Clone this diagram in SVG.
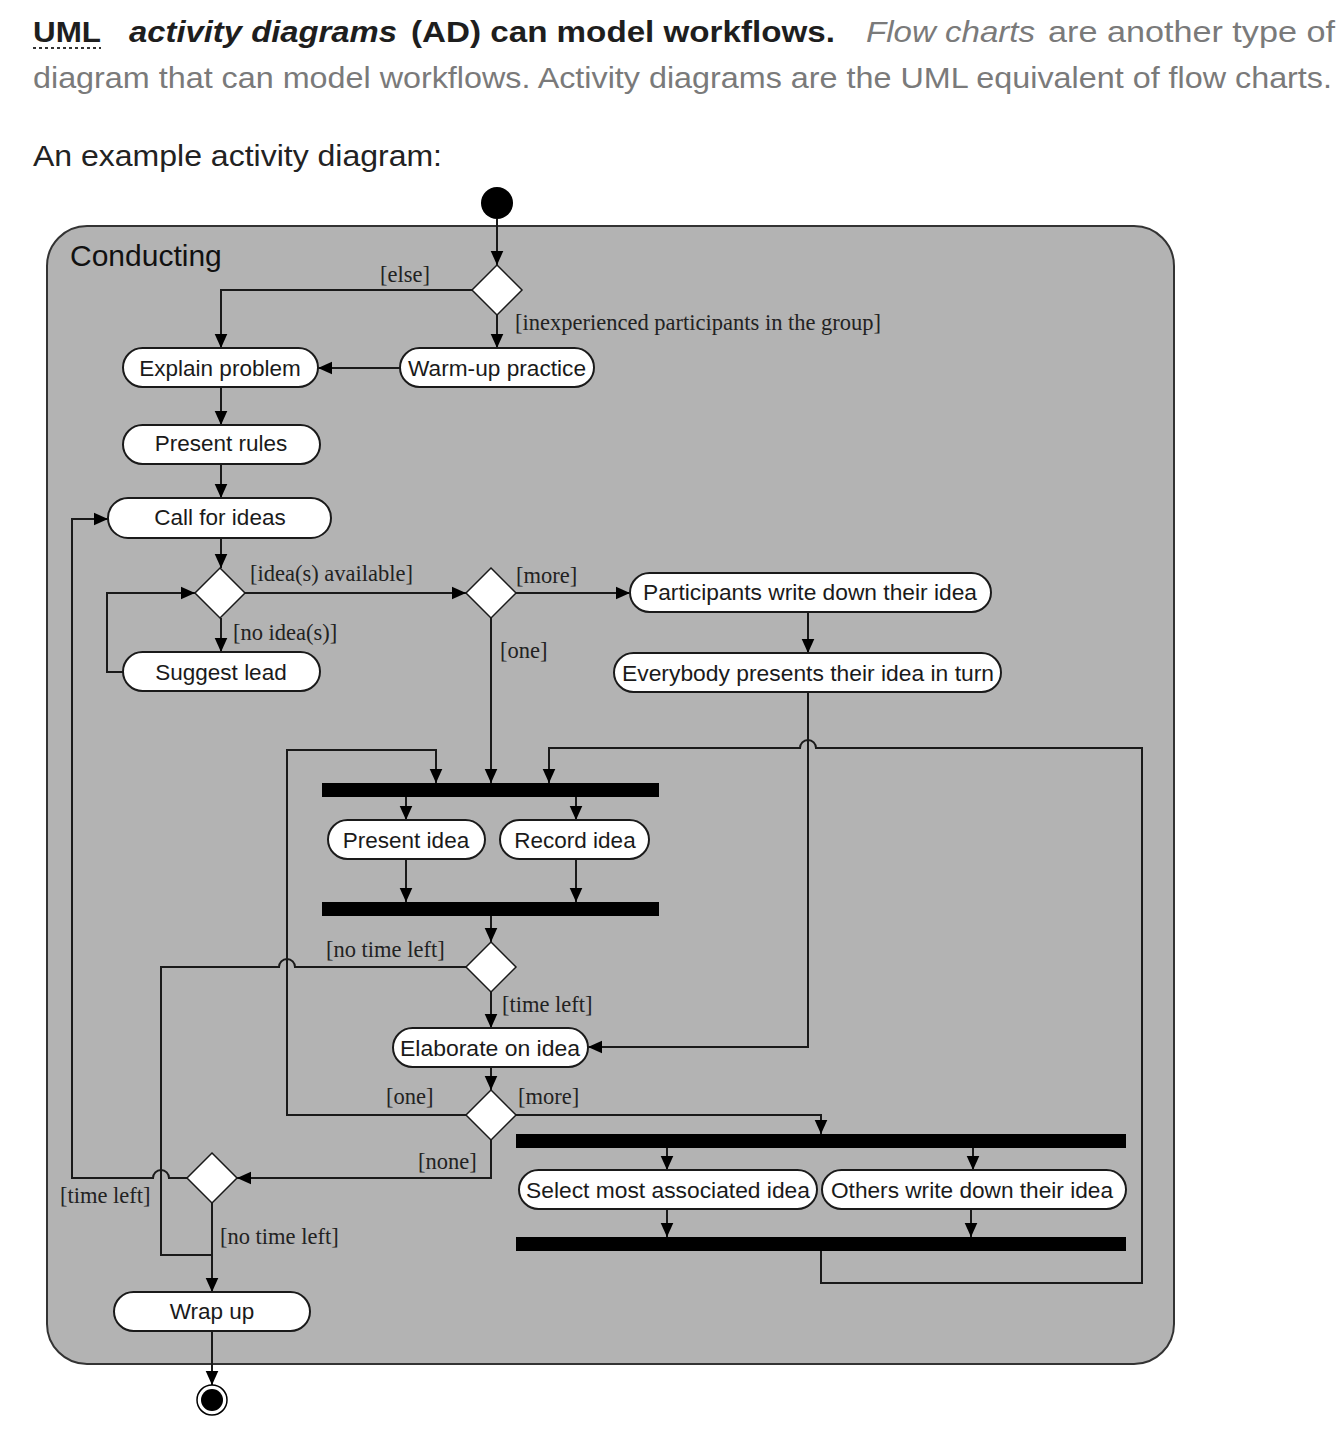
<svg xmlns="http://www.w3.org/2000/svg" width="1344" height="1436" viewBox="0 0 1344 1436">
<style>
.hd{font-family:"Liberation Sans",Arial,sans-serif;font-size:29px}
.b{font-weight:bold;fill:#1e1e1e}
.g{fill:#7a7a7a}
.k{fill:#222}
.pill{fill:#fff;stroke:#1a1a1a;stroke-width:2}
.pt{font-family:"Liberation Sans",Arial,sans-serif;font-size:22.5px;fill:#1a1a1a;text-anchor:middle}
.lb{font-family:"Liberation Serif","Times New Roman",serif;font-size:22.5px;fill:#222}
.ln{fill:none;stroke:#1a1a1a;stroke-width:2}
.ar{marker-end:url(#ah)}
.dia{fill:#fff;stroke:#1a1a1a;stroke-width:1.5}
.bar{fill:#000}
</style>
<defs>
<marker id="ah" viewBox="0 0 10 10" refX="10" refY="5" markerWidth="14" markerHeight="14" markerUnits="userSpaceOnUse" orient="auto">
<path d="M0,0.5 L10,5 L0,9.5 z" fill="#000"/>
</marker>
</defs>
<rect width="1344" height="1436" fill="#fff"/>
<g id="header">
<text class="hd b" x="33" y="42" textLength="68" lengthAdjust="spacingAndGlyphs">UML</text>
<line x1="33" y1="48" x2="101" y2="48" stroke="#333" stroke-width="2" stroke-dasharray="3,3"/>
<text class="hd b" x="129" y="42" font-style="italic" textLength="268" lengthAdjust="spacingAndGlyphs">activity diagrams</text>
<text class="hd b" x="411" y="42" textLength="424" lengthAdjust="spacingAndGlyphs">(AD) can model workflows.</text>
<text class="hd g" x="866" y="42" font-style="italic" textLength="169" lengthAdjust="spacingAndGlyphs">Flow charts</text>
<text class="hd g" x="1048" y="42" textLength="287" lengthAdjust="spacingAndGlyphs">are another type of</text>
<text class="hd g" x="33" y="88" textLength="1299" lengthAdjust="spacingAndGlyphs">diagram that can model workflows. Activity diagrams are the UML equivalent of flow charts.</text>
<text class="hd k" x="33" y="166" textLength="409" lengthAdjust="spacingAndGlyphs">An example activity diagram:</text>
</g>
<g id="container">
<rect x="47" y="226" width="1127" height="1138" rx="40" fill="#b3b3b3" stroke="#333" stroke-width="2"/>
<text x="70" y="266" font-family="Liberation Sans, Arial, sans-serif" font-size="30" fill="#111">Conducting</text>
</g>
<g id="connectors">
<path class="ln ar" d="M497,219 L497,265"/>
<path class="ln ar" d="M472,290 L221,290 L221,348"/>
<path class="ln ar" d="M497,315 L497,348"/>
<path class="ln ar" d="M400,368 L318,368"/>
<path class="ln ar" d="M221,387 L221,425"/>
<path class="ln ar" d="M221,464 L221,498"/>
<path class="ln ar" d="M221,538 L221,568"/>
<path class="ln ar" d="M245,593 L466,593"/>
<path class="ln ar" d="M221,618 L221,652"/>
<path class="ln ar" d="M123,672 L107,672 L107,593 L195,593"/>
<path class="ln ar" d="M516,593 L630,593"/>
<path class="ln ar" d="M491,618 L491,783"/>
<path class="ln ar" d="M808,612 L808,653"/>
<path class="ln ar" d="M808,692 L808,1047 L588,1047"/>
<path class="ln ar" d="M821,1251 L821,1283 L1142,1283 L1142,748 L816,748 A8,8 0 0 0 800,748 L549,748 L549,783"/>
<path class="ln ar" d="M466,1115 L287,1115 L287,750 L436,750 L436,783"/>
<path class="ln ar" d="M406,797 L406,820"/>
<path class="ln ar" d="M576,797 L576,820"/>
<path class="ln ar" d="M406,859 L406,902"/>
<path class="ln ar" d="M576,859 L576,902"/>
<path class="ln ar" d="M491,916 L491,942"/>
<path class="ln" d="M466,967 L295,967 A8,8 0 0 0 279,967 L161,967 L161,1255 L212,1255"/>
<path class="ln ar" d="M491,992 L491,1028"/>
<path class="ln ar" d="M491,1067 L491,1090"/>
<path class="ln ar" d="M516,1115 L821,1115 L821,1134"/>
<path class="ln ar" d="M667,1148 L667,1170"/>
<path class="ln ar" d="M973,1148 L973,1170"/>
<path class="ln ar" d="M667,1209 L667,1237"/>
<path class="ln ar" d="M971,1209 L971,1237"/>
<path class="ln ar" d="M491,1140 L491,1178 L237,1178"/>
<path class="ln ar" d="M187,1178 L169,1178 A8,8 0 0 0 153,1178 L72,1178 L72,519 L108,519"/>
<path class="ln ar" d="M212,1203 L212,1292"/>
<path class="ln ar" d="M212,1331 L212,1385"/>
</g>
<g id="labels">
<text class="lb" x="380" y="282">[else]</text>
<text class="lb" x="515" y="330">[inexperienced participants in the group]</text>
<text class="lb" x="250" y="581">[idea(s) available]</text>
<text class="lb" x="516" y="583">[more]</text>
<text class="lb" x="233" y="640">[no idea(s)]</text>
<text class="lb" x="500" y="658">[one]</text>
<text class="lb" x="326" y="957">[no time left]</text>
<text class="lb" x="502" y="1012">[time left]</text>
<text class="lb" x="386" y="1104">[one]</text>
<text class="lb" x="518" y="1104">[more]</text>
<text class="lb" x="418" y="1169">[none]</text>
<text class="lb" x="60" y="1203">[time left]</text>
<text class="lb" x="220" y="1244">[no time left]</text>
</g>
<g id="initial"><circle cx="497" cy="203" r="16" fill="#000"/></g>
<g id="d1"><path class="dia" d="M497,265 L522,290 L497,315 L472,290 z"/></g>
<g id="explain"><rect class="pill" x="123" y="348" width="195" height="39" rx="19.5"/><text class="pt" x="220" y="376">Explain problem</text></g>
<g id="warmup"><rect class="pill" x="400" y="348" width="194" height="39" rx="19.5"/><text class="pt" x="497" y="376" textLength="178" lengthAdjust="spacingAndGlyphs">Warm-up practice</text></g>
<g id="rules"><rect class="pill" x="123" y="425" width="197" height="39" rx="19.5"/><text class="pt" x="221" y="451">Present rules</text></g>
<g id="call"><rect class="pill" x="108" y="498" width="223" height="40" rx="20"/><text class="pt" x="220" y="525">Call for ideas</text></g>
<g id="d2"><path class="dia" d="M220,568 L245,593 L220,618 L195,593 z"/></g>
<g id="d3"><path class="dia" d="M491,568 L516,593 L491,618 L466,593 z"/></g>
<g id="suggest"><rect class="pill" x="123" y="652" width="197" height="39" rx="19.5"/><text class="pt" x="221" y="680">Suggest lead</text></g>
<g id="participants"><rect class="pill" x="630" y="573" width="361" height="39" rx="19.5"/><text class="pt" x="810" y="600" textLength="334" lengthAdjust="spacingAndGlyphs">Participants write down their idea</text></g>
<g id="everybody"><rect class="pill" x="614" y="653" width="387" height="39" rx="19.5"/><text class="pt" x="808" y="681" textLength="372" lengthAdjust="spacingAndGlyphs">Everybody presents their idea in turn</text></g>
<g id="fork1"><rect class="bar" x="322" y="783" width="337" height="14"/></g>
<g id="present"><rect class="pill" x="328" y="820" width="157" height="39" rx="19.5"/><text class="pt" x="406" y="848">Present idea</text></g>
<g id="record"><rect class="pill" x="500" y="820" width="149" height="39" rx="19.5"/><text class="pt" x="575" y="848">Record idea</text></g>
<g id="join1"><rect class="bar" x="322" y="902" width="337" height="14"/></g>
<g id="d4"><path class="dia" d="M491,942 L516,967 L491,992 L466,967 z"/></g>
<g id="elaborate"><rect class="pill" x="393" y="1028" width="195" height="39" rx="19.5"/><text class="pt" x="490" y="1056" textLength="180" lengthAdjust="spacingAndGlyphs">Elaborate on idea</text></g>
<g id="d6"><path class="dia" d="M491,1090 L516,1115 L491,1140 L466,1115 z"/></g>
<g id="fork2"><rect class="bar" x="516" y="1134" width="610" height="14"/></g>
<g id="select"><rect class="pill" x="519" y="1170" width="298" height="39" rx="19.5"/><text class="pt" x="668" y="1198" textLength="284" lengthAdjust="spacingAndGlyphs">Select most associated idea</text></g>
<g id="others"><rect class="pill" x="822" y="1170" width="304" height="39" rx="19.5"/><text class="pt" x="972" y="1198" textLength="282" lengthAdjust="spacingAndGlyphs">Others write down their idea</text></g>
<g id="join2"><rect class="bar" x="516" y="1237" width="610" height="14"/></g>
<g id="d5"><path class="dia" d="M212,1153 L237,1178 L212,1203 L187,1178 z"/></g>
<g id="wrapup"><rect class="pill" x="114" y="1292" width="196" height="39" rx="19.5"/><text class="pt" x="212" y="1319">Wrap up</text></g>
<g id="final"><circle cx="212" cy="1400" r="15" fill="#fff" stroke="#000" stroke-width="1.5"/><circle cx="212" cy="1400" r="11" fill="#000"/></g>
</svg>
